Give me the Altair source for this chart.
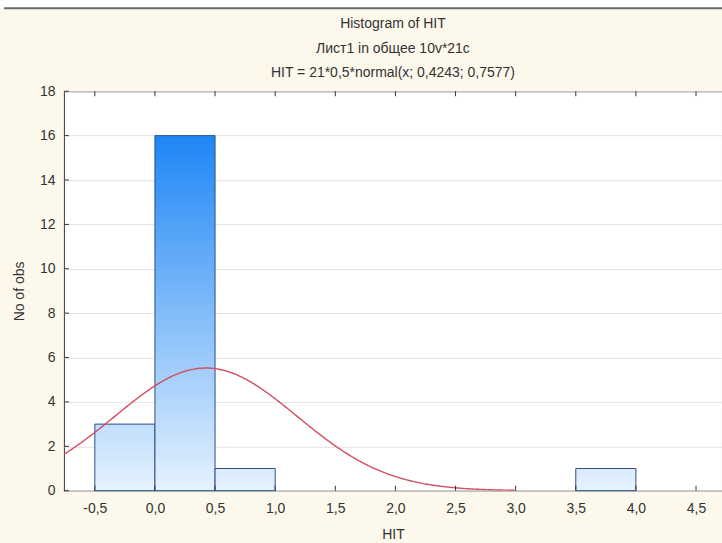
import altair as alt
import pandas as pd

# ---- data ----
bin_start = [-0.5, 0.0, 0.5, 3.5]
bin_end = [0.0, 0.5, 1.0, 4.0]
counts = [3, 16, 1, 1]

x_tick_values = [-0.5, 0.0, 0.5, 1.0, 1.5, 2.0, 2.5, 3.0, 3.5, 4.0, 4.5]
y_tick_values = [0, 2, 4, 6, 8, 10, 12, 14, 16, 18]

# fitted normal curve parameters shown in the title: 21*0,5*normal(x; 0,4243; 0,7577)
N_OBS = 21
BIN_W = 0.5
MU = 0.4243
SD = 0.7577

title_lines = [
    "Histogram of HIT",
    "Лист1 in общее 10v*21c",
    "HIT = 21*0,5*normal(x; 0,4243; 0,7577)",
]

X_MIN, X_MAX = -0.757, 4.716
Y_MIN, Y_MAX = 0, 18
CURVE_END = 3.0

FONT = "Liberation Sans"
TXT = "#333333"
W, H = 659, 400

bars = pd.DataFrame({"i": list(range(len(counts))), "x0": bin_start, "x1": bin_end, "n": counts})
xt = pd.DataFrame({"v": x_tick_values})
yt = pd.DataFrame({"v": y_tick_values})

xs = alt.Scale(domain=[X_MIN, X_MAX], nice=False, zero=False)
ys = alt.Scale(domain=[Y_MIN, Y_MAX], nice=False, zero=False)

x_axis = alt.Axis(
    values=x_tick_values,
    labelExpr="replace(replace(format(datum.value, '.1f'), '.', ','), '\u2212', '-')",
    grid=False, ticks=False, domain=False, labelPadding=11, titlePadding=12,
    labelFlush=False,
)
y_axis = alt.Axis(
    values=y_tick_values, grid=True, gridColor="#E2E2E2", ticks=False, domain=False,
    labelPadding=9, titlePadding=13,
)


def X(field):
    return alt.X(field, type="quantitative", scale=xs, axis=x_axis, title="HIT")


def Y(field):
    return alt.Y(field, type="quantitative", scale=ys, axis=y_axis, title="No of obs")


def mix(c1, c2, t):
    a = [int(c1[k:k + 2], 16) for k in (1, 3, 5)]
    b = [int(c2[k:k + 2], 16) for k in (1, 3, 5)]
    return "#" + "".join(f"{round(p + (q - p) * t):02x}" for p, q in zip(a, b))


LIGHT = "#E6F2FE"
DARK = "#1E86F5"
max_n = max(counts)

layers = []

# decorative strip at the very top of the window
deco = pd.DataFrame({"a": [0]})
layers.append(
    alt.Chart(deco).mark_rect(fill="white", clip=False).encode(
        x=alt.value(-64), x2=alt.value(W), y=alt.value(-91), y2=alt.value(-83)
    )
)
layers.append(
    alt.Chart(deco).mark_rule(color="#6A6A6A", strokeWidth=2, clip=False).encode(
        x=alt.value(-60), x2=alt.value(W), y=alt.value(-83)
    )
)

# histogram bars, each with a vertical gradient tied to the plot height
for i, n in enumerate(counts):
    top = mix(LIGHT, DARK, n / max_n)
    grad = alt.Gradient(
        gradient="linear",
        stops=[alt.GradientStop(color=top, offset=0), alt.GradientStop(color=LIGHT, offset=1)],
        x1=0, x2=0, y1=0, y2=1,
    )
    layers.append(
        alt.Chart(bars).transform_filter(alt.datum.i == i).mark_rect(
            fill=grad, stroke="#2B4F86", strokeWidth=1
        ).encode(x=X("x0"), x2="x1", y=Y("n"), y2=alt.datum(0))
    )

# fitted normal curve
curve = (
    alt.Chart(alt.sequence(X_MIN, CURVE_END + 0.001, 0.01, as_="x"))
    .transform_calculate(y=f"{N_OBS}*{BIN_W}*densityNormal(datum.x, {MU}, {SD})")
    .mark_line(color="#D24E62", strokeWidth=1.4, clip=True)
    .encode(x=X("x"), y=Y("y"))
)
layers.append(curve)

# inward tick marks
layers.append(alt.Chart(xt).mark_rule(color="#333333").encode(x=X("v"), y=alt.value(H), y2=alt.value(H - 5)))
layers.append(alt.Chart(xt).mark_rule(color="#333333").encode(x=X("v"), y=alt.value(0), y2=alt.value(5)))
layers.append(alt.Chart(yt).mark_rule(color="#333333").encode(y=Y("v"), x=alt.value(0), x2=alt.value(5)))

chart = (
    alt.layer(*layers)
    .properties(
        width=W,
        height=H,
        background="#FDF8EC",
        padding={"left": 64, "top": 91, "right": 0, "bottom": 52},
        autosize=alt.AutoSizeParams(type="none"),
        title=alt.TitleParams(
            text=title_lines, anchor="middle", frame="group", font=FONT, fontSize=14,
            fontWeight="normal", color=TXT, lineHeight=24.5, offset=-80,
        ),
    )
    .configure_view(fill="white", stroke="#3A3A3A", strokeWidth=1)
    .configure_axis(
        labelFont=FONT, labelFontSize=14, labelColor=TXT,
        titleFont=FONT, titleFontSize=14, titleColor=TXT, titleFontWeight="normal",
    )
)

chart.save("out.html", embed_options={"renderer": "svg", "actions": False})
